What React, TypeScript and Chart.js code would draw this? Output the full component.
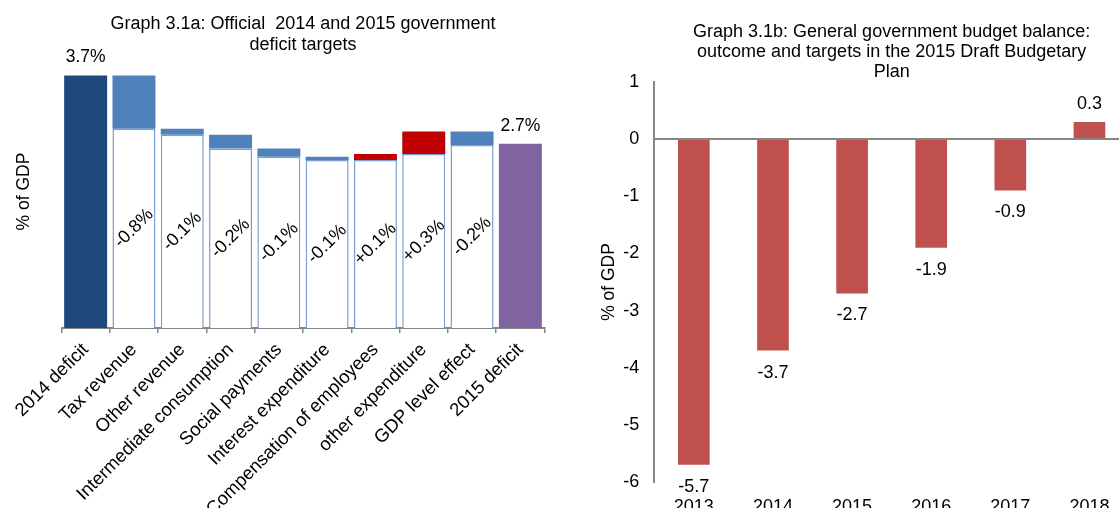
import React, { useEffect, useRef } from 'react';
import { Chart, registerables } from 'chart.js';

Chart.register(...registerables);

const FONT = "'Liberation Sans', Arial, Helvetica, sans-serif";

// ---- Left chart (waterfall) data ----
const leftTitle = ['Graph 3.1a: Official  2014 and 2015 government', 'deficit targets'];
const leftCategories = [
  '2014 deficit',
  'Tax revenue',
  'Other revenue',
  'Intermediate consumption',
  'Social payments',
  'Interest expenditure',
  'Compensation of employees',
  'other expenditure',
  'GDP level effect',
  '2015 deficit',
];
const leftStart = [0, 3.7, 2.92, 2.83, 2.63, 2.51, 2.46, 2.55, 2.88, 0];
const leftEnd = [3.7, 2.92, 2.83, 2.63, 2.51, 2.46, 2.55, 2.88, 2.68, 2.7];
const leftLabels = ['3.7%', '-0.8%', '-0.1%', '-0.2%', '-0.1%', '-0.1%', '+0.1%', '+0.3%', '-0.2%', '2.7%'];

// ---- Right chart data ----
const rightTitle = [
  'Graph 3.1b: General government budget balance:',
  'outcome and targets in the 2015 Draft Budgetary',
  'Plan',
];
const rightYears = ['2013', '2014', '2015', '2016', '2017', '2018'];
const rightBalance = [-5.7, -3.7, -2.7, -1.9, -0.9, 0.3];
const rightMin = -6;
const rightMax = 1;

const isTotal = (i: number) => i === 0 || i === leftCategories.length - 1;

const leftColors = leftCategories.map((_, i) => {
  if (i === 0) return '#1F497D';
  if (i === leftCategories.length - 1) return '#8064A2';
  return leftEnd[i] < leftStart[i] ? '#4F81BD' : '#C00000';
});

const leftLabelPlugin = {
  id: 'leftLabels',
  afterDatasetsDraw(chart: any) {
    const ctx = chart.ctx;
    const y = chart.scales.y;
    const meta = chart.getDatasetMeta(0);
    ctx.save();
    ctx.fillStyle = '#000';
    ctx.textAlign = 'center';
    ctx.textBaseline = 'middle';
    meta.data.forEach((bar: any, i: number) => {
      if (isTotal(i)) {
        ctx.font = `17.5px ${FONT}`;
        ctx.fillText(leftLabels[i], bar.x, y.getPixelForValue(leftEnd[i]) - 18);
      } else {
        const yTop = y.getPixelForValue(Math.min(leftStart[i], leftEnd[i]));
        const yBot = y.getPixelForValue(0);
        ctx.save();
        ctx.translate(bar.x, (yTop + yBot) / 2);
        ctx.rotate(-Math.PI / 4);
        ctx.font = `18px ${FONT}`;
        ctx.fillText(leftLabels[i], 0, 0);
        ctx.restore();
      }
    });
    ctx.restore();
  },
};

const rightLabelPlugin = {
  id: 'rightLabels',
  afterDatasetsDraw(chart: any) {
    const ctx = chart.ctx;
    const y = chart.scales.y;
    const meta = chart.getDatasetMeta(0);
    ctx.save();
    ctx.fillStyle = '#000';
    ctx.textAlign = 'center';
    ctx.textBaseline = 'middle';
    ctx.font = `18px ${FONT}`;
    meta.data.forEach((bar: any, i: number) => {
      const v = rightBalance[i];
      const py = y.getPixelForValue(v) + (v < 0 ? 22 : -18);
      ctx.fillText(String(v), bar.x, py);
    });
    ctx.restore();
  },
};

export default function App() {
  const leftRef = useRef<HTMLCanvasElement>(null);
  const rightRef = useRef<HTMLCanvasElement>(null);

  useEffect(() => {
    const left = new Chart(leftRef.current as HTMLCanvasElement, {
      type: 'bar',
      data: {
        labels: leftCategories,
        datasets: [
          {
            label: 'change',
            data: leftCategories.map((_, i) => [leftStart[i], leftEnd[i]]) as any,
            backgroundColor: leftColors,
            borderWidth: 0,
            barPercentage: 0.89,
            categoryPercentage: 1,
            grouped: false,
            order: 2,
          },
          {
            label: 'base',
            data: leftCategories.map((_, i) =>
              isTotal(i) ? null : [0, Math.min(leftStart[i], leftEnd[i])]
            ) as any,
            backgroundColor: '#ffffff',
            borderColor: '#7A9FD0',
            borderWidth: 1.5,
            borderSkipped: 'start',
            barPercentage: 0.89,
            categoryPercentage: 1,
            grouped: false,
            order: 1,
          },
        ],
      },
      options: {
        animation: false,
        responsive: false,
        devicePixelRatio: 1,
        layout: { padding: { left: 0, right: 15.5, top: 0, bottom: 0 } },
        plugins: {
          legend: { display: false },
          tooltip: { enabled: false },
          title: {
            display: true,
            text: leftTitle,
            color: '#000',
            font: { family: FONT, size: 18, weight: 'normal', lineHeight: 1.15 },
            padding: { top: 13.6, bottom: 0 },
            fullSize: false,
          },
        },
        scales: {
          x: {
            grid: {
              display: true,
              drawOnChartArea: false,
              drawTicks: true,
              tickLength: 5,
              color: '#868686',
              lineWidth: 1.5,
              offset: true,
            },
            border: { display: true, color: '#868686', width: 2 },
            ticks: {
              autoSkip: false,
              maxRotation: 45,
              minRotation: 45,
              color: '#000',
              padding: 6,
              font: { family: FONT, size: 18.5 },
            },
            afterFit: (s: any) => {
              s.height = 180;
            },
          },
          y: {
            min: 0,
            max: 4,
            grid: { display: false, drawTicks: false },
            border: { display: false },
            ticks: { display: false },
            title: {
              display: true,
              text: '% of GDP',
              color: '#000',
              font: { family: FONT, size: 17.5 },
              padding: { top: 14, bottom: 0 },
            },
            afterFit: (s: any) => {
              s.width = 61.5;
            },
          },
        },
      } as any,
      plugins: [leftLabelPlugin],
    });

    const right = new Chart(rightRef.current as HTMLCanvasElement, {
      type: 'bar',
      data: {
        labels: rightYears,
        datasets: [
          {
            label: 'balance',
            data: rightBalance,
            backgroundColor: '#C0504D',
            borderWidth: 0,
            barPercentage: 0.4,
            categoryPercentage: 1,
          },
        ],
      },
      options: {
        animation: false,
        responsive: false,
        devicePixelRatio: 1,
        layout: { padding: { left: 0, right: 1, top: 0, bottom: 0 } },
        plugins: {
          legend: { display: false },
          tooltip: { enabled: false },
          title: {
            display: true,
            text: rightTitle,
            color: '#000',
            font: { family: FONT, size: 18, weight: 'normal', lineHeight: 1.11 },
            padding: { top: 22, bottom: 0 },
            fullSize: false,
          },
        },
        scales: {
          x: {
            grid: { display: false, drawTicks: false },
            border: { display: false },
            ticks: { color: '#000', padding: 14, font: { family: FONT, size: 18 } },
            afterFit: (s: any) => {
              s.height = 26;
            },
          },
          y: {
            min: rightMin,
            max: rightMax,
            ticks: { stepSize: 1, color: '#000', padding: 15, font: { family: FONT, size: 18 } },
            grid: {
              drawTicks: false,
              lineWidth: 2,
              color: (c: any) => (c.tick && c.tick.value === 0 ? '#868686' : 'rgba(0,0,0,0)'),
            },
            border: { display: true, color: '#868686', width: 2 },
            title: {
              display: true,
              text: '% of GDP',
              color: '#000',
              font: { family: FONT, size: 17.5 },
              padding: { top: 38.5, bottom: 0 },
            },
            afterFit: (s: any) => {
              s.width = 94.3;
            },
          },
        },
      } as any,
      plugins: [rightLabelPlugin],
    });

    return () => {
      left.destroy();
      right.destroy();
    };
  }, []);

  return (
    <div
      style={{
        position: 'fixed',
        left: 0,
        top: 0,
        width: 1119,
        height: 508,
        overflow: 'hidden',
        background: '#ffffff',
      }}
    >
      <canvas
        ref={leftRef}
        width={560}
        height={508}
        style={{ position: 'absolute', left: 0, top: 0, width: 560, height: 508 }}
      />
      <canvas
        ref={rightRef}
        width={570}
        height={508}
        style={{ position: 'absolute', left: 560, top: 0, width: 570, height: 508 }}
      />
    </div>
  );
}
